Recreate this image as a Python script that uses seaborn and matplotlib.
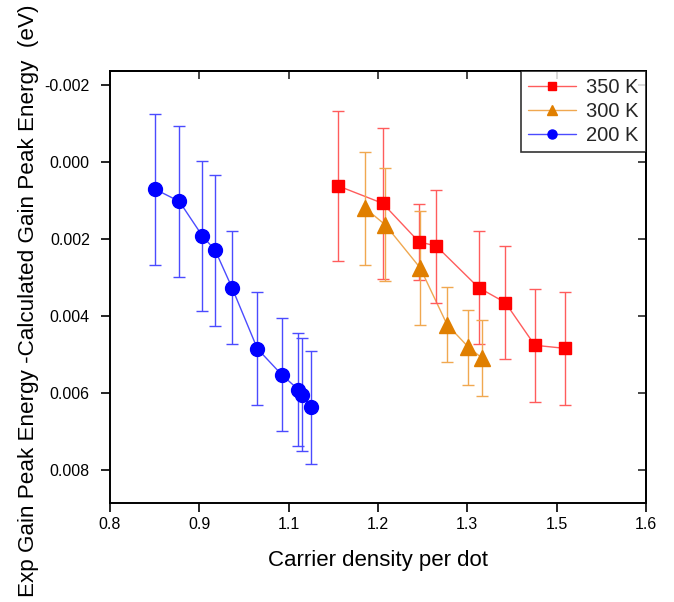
import numpy as np
import pandas as pd
import matplotlib
matplotlib.use('Agg')
import matplotlib.pyplot as plt
from matplotlib.lines import Line2D
from matplotlib.ticker import FormatStrFormatter
import seaborn as sns

# data
x_350 = [1.141, 1.207, 1.261, 1.287, 1.350, 1.390, 1.434, 1.479]
y_350 = [0.00062, 0.00107, 0.00207, 0.00218, 0.00326, 0.00365, 0.00476, 0.00484]
e_350 = [0.00196, 0.00196, 0.00098, 0.00147, 0.00147, 0.00147, 0.00147, 0.00147]

x_300 = [1.181, 1.211, 1.263, 1.303, 1.335, 1.355]
y_300 = [0.00120, 0.00163, 0.00275, 0.00422, 0.00481, 0.00509]
e_300 = [0.00147, 0.00147, 0.00147, 0.00098, 0.00098, 0.00098]

x_200 = [0.867, 0.9035, 0.938, 0.957, 0.982, 1.020, 1.056, 1.081, 1.087, 1.0995]
y_200 = [0.00070, 0.00102, 0.00192, 0.00229, 0.00326, 0.00485, 0.00552, 0.00591, 0.00605, 0.00637]
e_200 = [0.00196, 0.00196, 0.00196, 0.00196, 0.00147, 0.00147, 0.00147, 0.00147, 0.00147, 0.00147]

series_names = ['350 K', '300 K', '200 K']
x_tick_labels = ['0.8', '0.9', '1.1', '1.2', '1.3', '1.5', '1.6']
y_ticks = [-0.002, 0.000, 0.002, 0.004, 0.006, 0.008]

sns.set_theme(style='ticks')
plt.rcParams['font.family'] = ['Liberation Sans', 'DejaVu Sans']

df = pd.concat([
    pd.DataFrame({'x': x_350, 'y': y_350, 'err': e_350, 'T': series_names[0]}),
    pd.DataFrame({'x': x_300, 'y': y_300, 'err': e_300, 'T': series_names[1]}),
    pd.DataFrame({'x': x_200, 'y': y_200, 'err': e_200, 'T': series_names[2]}),
], ignore_index=True)

marker_col = {'350 K': '#ff0000', '300 K': '#e07f00', '200 K': '#0000ff'}
light_col = {'350 K': '#ff5c5c', '300 K': '#f0a850', '200 K': '#4b4bff'}
marks = {'350 K': 's', '300 K': '^', '200 K': 'o'}
msize = {'350 K': 9, '300 K': 11.5, '200 K': 10}
leg_msize = {'350 K': 6, '300 K': 7.5, '200 K': 6.5}

fig = plt.figure(figsize=(6.74, 6.02), dpi=100)
ax = fig.add_axes([0.1632, 0.1645, 0.7953, 0.7175])

# connecting lines
sns.lineplot(data=df, x='x', y='y', hue='T', palette=light_col, sort=False,
             estimator=None, linewidth=1, legend=False, ax=ax, zorder=1)

for name in series_names:
    d = df[df['T'] == name]
    ax.errorbar(d['x'], d['y'], yerr=d['err'], fmt='none', ecolor=light_col[name],
                elinewidth=1, capsize=4, capthick=1, zorder=2)
    ax.plot(d['x'], d['y'], linestyle='none', marker=marks[name], markersize=msize[name],
            color=marker_col[name], markeredgecolor=marker_col[name], zorder=3)

ax.set_xlim(0.8, 1.6)
ax.set_ylim(0.00886, -0.00237)
ax.set_xticks(np.linspace(0.8, 1.6, len(x_tick_labels)))
ax.set_xticklabels(x_tick_labels)
ax.set_yticks(y_ticks)
ax.yaxis.set_major_formatter(FormatStrFormatter('%.3f'))
ax.tick_params(axis='both', which='major', labelsize=11.5, length=6.5, width=1.2,
               color='black', labelcolor='black', direction='out')
ax.tick_params(axis='y', pad=8)

# inward ticks on top and right
ax_top = ax.secondary_xaxis('top')
ax_top.set_xticks(np.linspace(0.8, 1.6, len(x_tick_labels)))
ax_top.tick_params(direction='in', length=6, width=1.2, labeltop=False)
ax_right = ax.secondary_yaxis('right')
ax_right.set_yticks(y_ticks)
ax_right.tick_params(direction='in', length=6, width=1.2, labelright=False)

for sp in ax.spines.values():
    sp.set_linewidth(1.4)
    sp.set_color('black')
ax_top.spines['top'].set_linewidth(1.4)
ax_right.spines['right'].set_linewidth(1.4)

ax.set_xlabel('Carrier density per dot', fontsize=16, color='black')
ax.set_ylabel('Exp Gain Peak Energy -Calculated Gain Peak Energy  (eV)', fontsize=16.2, color='black')
ax.xaxis.set_label_coords(0.5, -0.108)
ax.yaxis.set_label_coords(-0.1325, 0.468)

handles = [Line2D([0], [0], color=light_col[n], linewidth=1, marker=marks[n],
                  markersize=leg_msize[n], markerfacecolor=marker_col[n],
                  markeredgecolor=marker_col[n]) for n in series_names]
leg = ax.legend(handles, series_names, loc='upper right', borderaxespad=0,
                fontsize=14.5, frameon=True, fancybox=False, handlelength=2.4,
                handletextpad=0.5, labelspacing=0.25, borderpad=0.35)
leg.get_frame().set_edgecolor('black')
leg.get_frame().set_linewidth(1.2)

fig.savefig('out.png', dpi=100)
